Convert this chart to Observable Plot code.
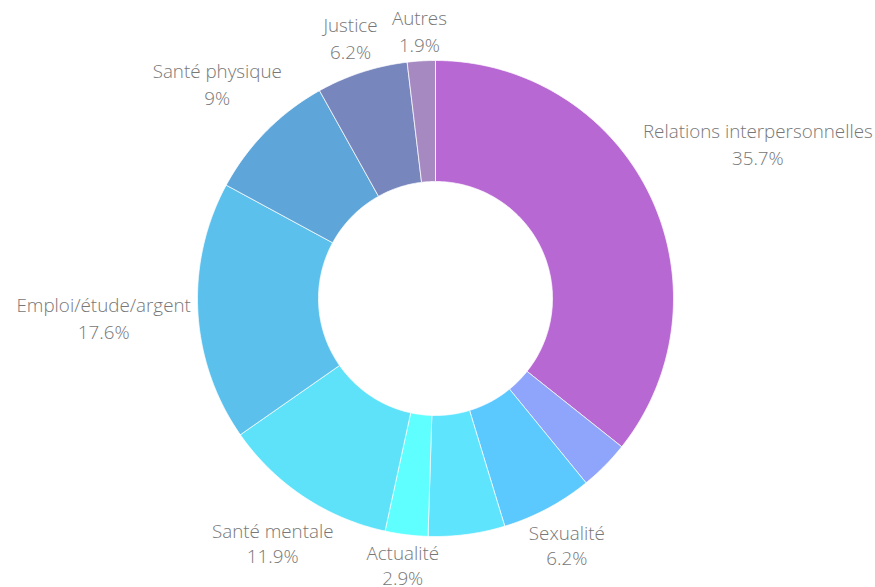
<!DOCTYPE html>
<html>
<head>
<meta charset="utf-8">
<script src="https://cdn.jsdelivr.net/npm/d3@7"></script>
<script src="https://cdn.jsdelivr.net/npm/@observablehq/plot@0.6"></script>
<style>
  html, body { margin: 0; padding: 0; background: #fff; }
  #chart { width: 875px; height: 587px; }
</style>
</head>
<body>
<div id="chart"></div>
<script>
// Data (clockwise from 12 o'clock)
const categories = ["Relations interpersonnelles", "", "Sexualité", "", "Actualité", "Santé mentale", "Emploi/étude/argent", "Santé physique", "Justice", "Autres"];
const values = [35.7, 3.4, 6.2, 5.2, 2.9, 11.9, 17.6, 9, 6.2, 1.9];
const colors = ["#b868d3", "#8fa5fb", "#5bc8fe", "#5ee4fc", "#5ffeff", "#5de2f9", "#5bc1ec", "#5ea5da", "#7787bd", "#a689c1"];

const W = 875, H = 587;
const cx = 435, cy = 298, R = 238; // pixel geometry
const inner = 117 / 238;
const fontSize = 18.8, gap = 6;
const lineHTop = 27, lineHBottom = 25;
const fontFamily = "'Open Sans'";

const rows = categories.map((name, i) => ({i, name, value: values[i], color: colors[i]}));
const arcs = d3.pie().sort(null).value(d => d.value).startAngle(0).endAngle(2 * Math.PI)(rows);

// polygon vertices in data units (outer radius = 1)
const poly = [];
for (const a of arcs) {
  const n = Math.max(4, Math.ceil((a.endAngle - a.startAngle) / 0.01));
  const pts = [];
  for (let k = 0; k <= n; k++) {
    const t = a.startAngle + (a.endAngle - a.startAngle) * k / n;
    pts.push([Math.sin(t), Math.cos(t)]);
  }
  for (let k = n; k >= 0; k--) {
    const t = a.startAngle + (a.endAngle - a.startAngle) * k / n;
    pts.push([inner * Math.sin(t), inner * Math.cos(t)]);
  }
  pts.push(pts[0]);
  for (const [x, y] of pts) poly.push({key: a.data.i, x, y, color: a.data.color});
}

// measure label text with a temporary SVG text element
const tmp = d3.select("body").append("svg").attr("width", 0).attr("height", 0);
const tt = tmp.append("text").attr("font-family", fontFamily).attr("font-size", fontSize).attr("font-weight", 300);
function measure(s) { tt.text(s); return tt.node().getComputedTextLength(); }

const labels = arcs.filter(a => a.data.name).map(a => {
  const m = (a.startAngle + a.endAngle) / 2;
  const s = Math.sin(m), c = Math.cos(m);
  const bottom = c < -0.5;
  const lh = bottom ? lineHBottom : lineHTop;
  const pct = String(a.data.value) + "%";
  const w = Math.max(measure(a.data.name), measure(pct));
  const h = lh + fontSize * 1.1;
  const g = bottom ? gap - 3 : gap;
  const r = R + g + Math.abs(s) * w / 2 + Math.abs(c) * h / 2;
  return {x: r * s / R, y: r * c / R, text: a.data.name + "\n" + pct, bottom};
});
tmp.remove();

const textStyle = {x: "x", y: "y", text: "text", fill: "#777", fontSize: fontSize, fontWeight: 300, fontFamily: fontFamily, textAnchor: "middle", lineAnchor: "middle"};

const chart = Plot.plot({
  width: W,
  height: H,
  marginLeft: cx - R,
  marginRight: W - (cx + R),
  marginTop: cy - R,
  marginBottom: H - (cy + R),
  x: {domain: [-1, 1], axis: null},
  y: {domain: [-1, 1], axis: null},
  color: {type: "identity"},
  style: {background: "#fff", overflow: "visible"},
  marks: [
    Plot.line(poly, {x: "x", y: "y", z: "key", fill: "color", stroke: "#fff", strokeWidth: 0.8, strokeOpacity: 0.9, curve: "linear"}),
    Plot.text(labels.filter(d => !d.bottom), {...textStyle, lineHeight: lineHTop / fontSize}),
    Plot.text(labels.filter(d => d.bottom), {...textStyle, lineHeight: lineHBottom / fontSize})
  ]
});
document.getElementById("chart").appendChild(chart);
</script>
</body>
</html>
